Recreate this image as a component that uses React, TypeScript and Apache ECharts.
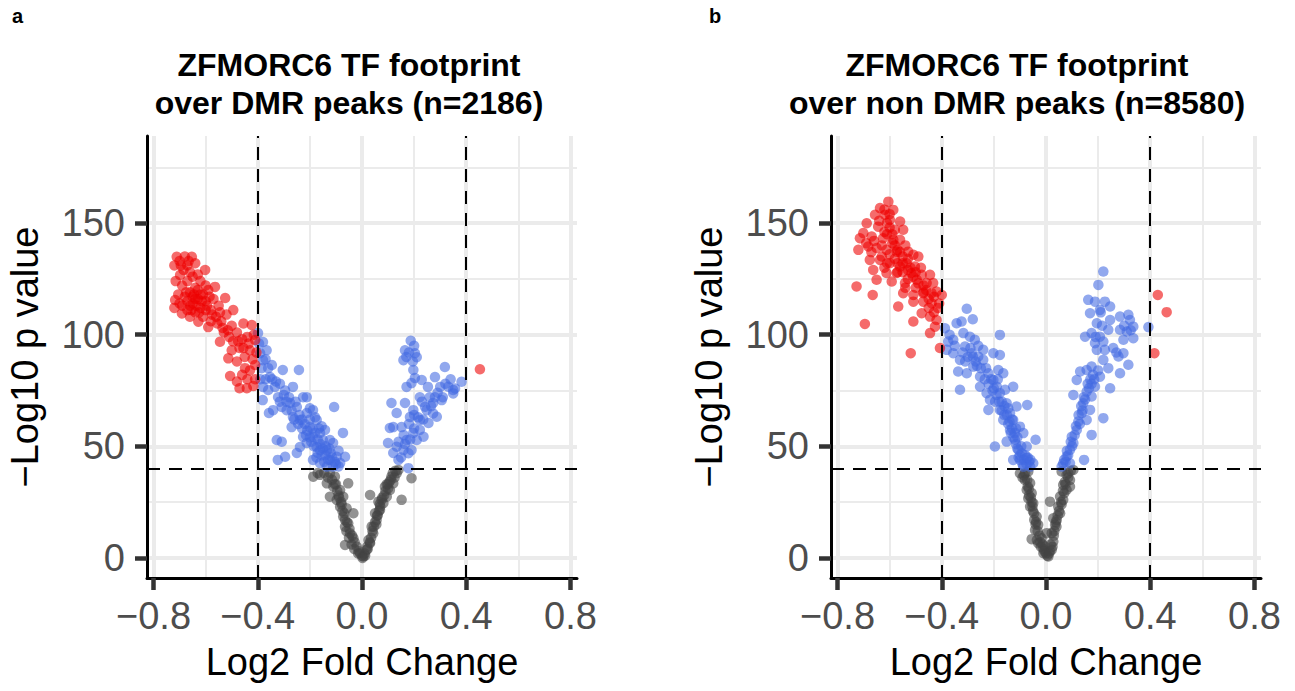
import React, { useEffect, useRef } from "react";
import * as echarts from "echarts";

// ---------- axes / reference values ----------
const xMajor = [-0.8, -0.4, 0, 0.4, 0.8];
const xMinor = [-0.6, -0.2, 0.2, 0.6];
const yMajor = [0, 50, 100, 150];
const yMinor = [25, 75, 125, 175];
const fcCut = [-0.4, 0.4];
const pCut = 40;
const xLimits = [-0.825, 0.825];
const yLimits = [-9, 189];

const panelTags = ["a", "b"];
const panelTitles = [
  "ZFMORC6 TF footprint\nover DMR peaks (n=2186)",
  "ZFMORC6 TF footprint\nover non DMR peaks (n=8580)",
];
const xTitle = "Log2 Fold Change";
const yTitle = "\u2212Log10 p value";

// ---------- panel a data ----------
const aRed = [
  [-0.711, 134.9], [-0.653, 134.9], [-0.64, 132], [-0.698, 126.7], [-0.602, 129], [-0.564, 121.4],
  [-0.525, 116.4], [-0.494, 111], [-0.455, 105], [-0.423, 104.3], [-0.41, 97.6], [-0.41, 86.4],
  [-0.449, 85], [-0.417, 77], [-0.442, 76], [-0.48, 79], [-0.506, 81.5], [-0.513, 89.4],
  [-0.545, 96.8], [-0.59, 103.4], [-0.628, 105.8], [-0.691, 109.5], [-0.717, 115.5],
  [-0.72, 131], [-0.7, 133], [-0.68, 135], [-0.67, 131], [-0.66, 128], [-0.685, 129], [-0.715, 124],
  [-0.69, 122], [-0.67, 124], [-0.65, 126], [-0.63, 127], [-0.62, 124], [-0.64, 121], [-0.66, 119],
  [-0.68, 117], [-0.7, 114], [-0.72, 112], [-0.69, 113], [-0.67, 111], [-0.65, 114], [-0.63, 116],
  [-0.61, 118], [-0.59, 120], [-0.6, 115], [-0.62, 112], [-0.64, 110], [-0.66, 108], [-0.61, 108],
  [-0.58, 111], [-0.57, 116], [-0.55, 113], [-0.56, 108], [-0.54, 106], [-0.52, 109], [-0.5, 104],
  [-0.53, 101], [-0.51, 99], [-0.48, 101], [-0.46, 98], [-0.44, 99], [-0.47, 94], [-0.43, 93],
  [-0.45, 90], [-0.48, 88], [-0.5, 93], [-0.42, 89], [-0.46, 82], [-0.44, 80], [-0.41, 80],
  [-0.47, 76], [-0.43, 84], [-0.405, 92], [-0.58, 106], [-0.6, 111], [-0.65, 117], [-0.63, 120],
  [-0.64, 116], [-0.66, 113], [-0.62, 118], [-0.6, 122],
  [-0.67, 115], [-0.655, 111], [-0.635, 113], [-0.615, 115], [-0.675, 119], [-0.645, 118],
  [-0.625, 110], [-0.595, 113], [-0.575, 109], [-0.555, 105], [-0.535, 103], [-0.515, 102],
  [-0.495, 97], [-0.475, 97], [-0.455, 94], [-0.435, 96], [-0.415, 100], [-0.705, 118],
  [-0.695, 131], [-0.665, 133], [-0.585, 117], [-0.545, 110],
  [0.4525, 84.5],
];

const aBlue = [
  // left arm
  [-0.399, 100.7], [-0.38, 96.7], [-0.366, 93], [-0.391, 91.7], [-0.38, 88.6], [-0.346, 86.4],
  [-0.385, 85], [-0.353, 81], [-0.38, 76.6], [-0.36, 75.2], [-0.381, 70.7], [-0.357, 64.9],
  [-0.334, 76.6], [-0.304, 84.2], [-0.322, 72], [-0.295, 75], [-0.308, 67.6], [-0.327, 52.8],
  [-0.308, 52], [-0.323, 43.9], [-0.265, 76.6], [-0.242, 84.2], [-0.276, 69.4], [-0.25, 67.6],
  [-0.265, 63.1], [-0.226, 72], [-0.212, 72], [-0.238, 61.8], [-0.212, 64.9], [-0.188, 66.2],
  [-0.2, 58.6], [-0.174, 61.8], [-0.226, 54.2], [-0.188, 54.2], [-0.161, 56], [-0.238, 49.7],
  [-0.212, 51.5], [-0.174, 49.7], [-0.15, 52.8], [-0.135, 48.3], [-0.111, 51.5], [-0.073, 56],
  [-0.107, 67.6], [-0.188, 43.9], [-0.161, 42.5], [-0.123, 43.9], [-0.097, 45.3], [-0.065, 45.3],
  [-0.111, 40.9], [-0.135, 40.9], [-0.084, 42.5], [-0.25, 47], [-0.295, 45.3], [-0.341, 66.2],
  [-0.289, 66.2], [-0.27, 58.6], [-0.161, 48.3], [-0.123, 52.8], [-0.142, 57.3],
  [-0.22, 60], [-0.2, 62], [-0.19, 58], [-0.18, 56], [-0.17, 53], [-0.16, 51], [-0.15, 49],
  [-0.14, 46], [-0.13, 44], [-0.12, 47], [-0.2, 54], [-0.21, 57], [-0.23, 58], [-0.24, 64],
  [-0.255, 70], [-0.28, 72], [-0.3, 73], [-0.315, 78], [-0.37, 80], [-0.39, 80], [-0.175, 45],
  [-0.145, 43], [-0.1, 42], [-0.09, 48], [-0.155, 59],
  [-0.395, 96], [-0.37, 89], [-0.36, 85], [-0.345, 80], [-0.33, 79], [-0.315, 70], [-0.29, 70],
  [-0.27, 66], [-0.26, 62], [-0.245, 60], [-0.23, 62], [-0.215, 55], [-0.195, 52], [-0.185, 50],
  [-0.17, 47], [-0.155, 46], [-0.14, 50], [-0.125, 49], [-0.115, 45], [-0.105, 43], [-0.09, 41],
  [-0.2, 67], [-0.18, 63], [-0.165, 58],
  // right arm
  [0.187, 97.3], [0.165, 93], [0.203, 91.7], [0.159, 88.6], [0.21, 89.9], [0.197, 84.2],
  [0.203, 80.6], [0.19, 78.3], [0.318, 85.5], [0.28, 81], [0.382, 78.9], [0.253, 76.6],
  [0.3, 76.6], [0.35, 75.2], [0.171, 76.6], [0.222, 72], [0.26, 72], [0.306, 70.7],
  [0.113, 69.4], [0.165, 69.4], [0.197, 66.2], [0.248, 66.2], [0.273, 69.4], [0.133, 64.9],
  [0.184, 63.1], [0.222, 61.8], [0.255, 60.4], [0.107, 58.2], [0.152, 58.6], [0.12, 58.6],
  [0.197, 56], [0.222, 57.3], [0.171, 52.8], [0.21, 52.8], [0.1, 51.5], [0.133, 49.8],
  [0.19, 48.3], [0.12, 47], [0.159, 48.3], [0.178, 46.9], [0.14, 43.9], [0.178, 40.2],
  [0.236, 54.3], [0.273, 64.7], [0.287, 63.2], [0.35, 73.7], [0.331, 76.7], [0.357, 75.9],
  [0.229, 79.7], [0.242, 67.7], [0.18, 60], [0.2, 64], [0.16, 55], [0.14, 52], [0.23, 70],
  [0.29, 74], [0.31, 72], [0.17, 90], [0.195, 88],
  [0.15, 45], [0.165, 51], [0.185, 53], [0.2, 58], [0.215, 63], [0.235, 62], [0.265, 68],
  [0.28, 72], [0.32, 78], [0.34, 80], [0.18, 92], [0.2, 95],
];

const aGray = [
  [-0.187, 36.4], [-0.161, 37.2], [-0.123, 37.9], [-0.104, 36.4], [-0.053, 33.4], [-0.135, 33.4],
  [-0.11, 31.9], [-0.084, 30.4], [-0.123, 27.4], [-0.097, 26], [-0.072, 27.4], [-0.084, 22.9],
  [-0.059, 22.2], [-0.072, 18.5], [-0.053, 15.5], [-0.065, 14], [-0.046, 11], [-0.033, 8.8],
  [-0.065, 5.8], [-0.02, 5], [-0.008, 2.1], [0.005, 0.6], [0.018, 3.6], [0.031, 6.6],
  [0.043, 11], [0.037, 14], [0.056, 17], [0.05, 20], [0.069, 21.5], [0.082, 24.5],
  [0.063, 25.2], [0.095, 27.4], [0.107, 30.4], [0.088, 31.9], [0.12, 33.4], [0.113, 36.4],
  [0.133, 37.9], [0.14, 39.4], [0.152, 26], [0.19, 35.7], [0.031, 28.2], [-0.033, 20],
  [-0.115, 35], [-0.1, 33], [-0.09, 28], [-0.08, 25], [-0.075, 21], [-0.065, 17], [-0.06, 12],
  [-0.05, 9], [-0.04, 6], [-0.03, 4], [-0.015, 2], [0, 1], [0.01, 2], [0.02, 5], [0.025, 8],
  [0.035, 9], [0.045, 14], [0.06, 19], [0.07, 23], [0.075, 26], [0.085, 28], [0.1, 31],
  [0.105, 34], [0.125, 36], [0.095, 33], [0.065, 21], [0.055, 15], [-0.145, 38], [-0.095, 30],
  [-0.17, 38], [-0.13, 36], [-0.105, 33], [-0.088, 27], [-0.078, 24], [-0.068, 20], [-0.058, 16],
  [-0.048, 13], [-0.038, 10], [-0.028, 7], [-0.012, 3], [0.002, 0], [0.012, 1], [0.022, 4],
  [0.03, 7], [0.04, 12], [0.05, 16], [0.058, 19], [0.068, 24], [0.078, 27], [0.09, 30],
  [0.1, 33], [0.11, 35], [0.128, 39], [0.118, 38],
];

// ---------- panel b data ----------
const bRed = [
  [-0.605, 159.6], [-0.637, 156.7], [-0.586, 155.9], [-0.656, 153.7], [-0.618, 153.7], [-0.599, 151.4],
  [-0.56, 150.7], [-0.688, 149.9], [-0.644, 148.4], [-0.58, 147], [-0.701, 145.5], [-0.548, 147],
  [-0.714, 143.2], [-0.669, 144], [-0.625, 143.2], [-0.586, 142.5], [-0.56, 142.5], [-0.72, 138],
  [-0.682, 139.5], [-0.65, 138.8], [-0.612, 138], [-0.573, 137.2], [-0.529, 137.2], [-0.509, 135.8],
  [-0.49, 135], [-0.676, 133.5], [-0.637, 133.5], [-0.599, 132], [-0.56, 130.5], [-0.535, 132],
  [-0.503, 130.5], [-0.663, 129], [-0.612, 127.6], [-0.573, 127.6], [-0.516, 127.6], [-0.477, 126.8],
  [-0.445, 126.8], [-0.65, 124.6], [-0.592, 123.8], [-0.541, 123.1], [-0.496, 124.6], [-0.458, 123.1],
  [-0.433, 123.1], [-0.727, 121.6], [-0.665, 117.8], [-0.548, 118.6], [-0.509, 117.8], [-0.471, 118.6],
  [-0.439, 118.6], [-0.4, 117.8], [-0.42, 119.3], [-0.567, 112.6], [-0.509, 114.8], [-0.471, 114.8],
  [-0.439, 114.1], [-0.477, 109.6], [-0.445, 108.1], [-0.42, 106.6], [-0.695, 104.8], [-0.509, 105.9],
  [-0.445, 100.7], [-0.407, 94], [-0.519, 91.7], [-0.426, 103.6],
  [-0.6, 148], [-0.62, 146], [-0.58, 140], [-0.55, 135], [-0.6, 136], [-0.63, 140], [-0.66, 142],
  [-0.52, 130], [-0.5, 128], [-0.55, 128], [-0.57, 132], [-0.62, 130], [-0.47, 122], [-0.5, 121],
  [-0.53, 125], [-0.45, 112], [-0.43, 110], [-0.61, 150], [-0.64, 151], [-0.59, 145], [-0.54, 140],
  [-0.56, 137], [-0.53, 134], [-0.48, 130], [-0.46, 120], [-0.415, 112],
  [-0.61, 145], [-0.59, 141], [-0.57, 138], [-0.55, 132], [-0.53, 129], [-0.51, 126], [-0.49, 123],
  [-0.47, 119], [-0.45, 116], [-0.43, 117], [-0.41, 114], [-0.63, 135], [-0.61, 132], [-0.58, 134],
  [-0.57, 128], [-0.54, 121], [-0.62, 156], [-0.6, 154], [-0.67, 137], [-0.69, 141],
  [0.429, 117.8], [0.463, 110.1], [0.416, 91.7],
];

const bBlue = [
  // left arm
  [-0.388, 102.9], [-0.375, 96.9], [-0.381, 93.2], [-0.356, 91.7], [-0.343, 105.1], [-0.324, 105.9],
  [-0.304, 111.6], [-0.281, 106.9], [-0.317, 100.7], [-0.292, 99.1], [-0.273, 97.7], [-0.311, 94.7],
  [-0.33, 88.7], [-0.337, 83.5], [-0.304, 82.7], [-0.33, 75.3], [-0.285, 91.7], [-0.26, 90.2],
  [-0.241, 88.7], [-0.279, 85.7], [-0.253, 81.2], [-0.221, 82.7], [-0.202, 79.7], [-0.177, 99.9],
  [-0.177, 90.9], [-0.183, 84.2], [-0.164, 82.7], [-0.189, 76.7], [-0.253, 76.7], [-0.215, 70.8],
  [-0.177, 73.8], [-0.157, 75.3], [-0.221, 66.3], [-0.177, 66.3], [-0.151, 69.3], [-0.138, 64.8],
  [-0.164, 61.8], [-0.126, 61.8], [-0.113, 67.8], [-0.072, 68.5], [-0.138, 57.3], [-0.1, 58.8],
  [-0.087, 55.9], [-0.119, 52.9], [-0.151, 52.1], [-0.196, 49.9], [-0.04, 52.9], [-0.074, 49.9],
  [-0.106, 48.4], [-0.126, 43.9], [-0.1, 43.9], [-0.074, 44.7], [-0.049, 42.4], [-0.087, 40.9],
  [-0.061, 40.9], [-0.093, 46.9], [-0.241, 93.2], [-0.356, 97.7], [-0.202, 91.7], [-0.228, 73.8],
  [-0.126, 76.7], [-0.3, 90], [-0.27, 88], [-0.23, 85], [-0.21, 80], [-0.19, 73], [-0.17, 70],
  [-0.15, 64], [-0.13, 58], [-0.11, 54], [-0.095, 50], [-0.08, 46], [-0.065, 43], [-0.2, 76],
  [-0.16, 68], [-0.14, 61], [-0.12, 56], [-0.105, 45], [-0.09, 42],
  [-0.37, 100], [-0.35, 95], [-0.32, 92], [-0.31, 88], [-0.29, 94], [-0.28, 90], [-0.265, 86],
  [-0.25, 85], [-0.235, 80], [-0.22, 78], [-0.205, 75], [-0.195, 70], [-0.18, 70], [-0.17, 66],
  [-0.16, 64], [-0.145, 60], [-0.135, 56], [-0.125, 54], [-0.115, 51], [-0.11, 49], [-0.1, 46],
  [-0.085, 44], [-0.075, 42], [-0.07, 45], [-0.06, 44], [-0.115, 58], [-0.13, 62], [-0.145, 67],
  [-0.185, 80], [-0.26, 95],
  // right arm
  [0.22, 128.3], [0.201, 122.3], [0.162, 115.6], [0.188, 114.8], [0.226, 114.8], [0.207, 111.1],
  [0.169, 109.6], [0.246, 112.6], [0.246, 106.6], [0.284, 108.1], [0.316, 108.9], [0.322, 106.6],
  [0.284, 102.2], [0.31, 101.4], [0.335, 98.4], [0.393, 103.4], [0.175, 100.7], [0.15, 99.1],
  [0.207, 99.1], [0.188, 96.2], [0.22, 96.9], [0.195, 93.2], [0.226, 93.2], [0.258, 94],
  [0.278, 90.2], [0.297, 91.7], [0.316, 86.5], [0.22, 88.7], [0.239, 85], [0.175, 85.7],
  [0.131, 83.5], [0.156, 84.2], [0.207, 81.2], [0.284, 82.7], [0.246, 76], [0.188, 76.7],
  [0.156, 74.5], [0.105, 73], [0.175, 72.3], [0.143, 69.3], [0.169, 66.3], [0.137, 64.8],
  [0.22, 62.6], [0.156, 61.8], [0.124, 61.1], [0.118, 57.3], [0.099, 54.3], [0.175, 55.1],
  [0.105, 51.4], [0.092, 48.4], [0.079, 45.4], [0.146, 43.9], [0.066, 42.4], [0.092, 42.4],
  [0.06, 40.9], [0.335, 103.6], [0.297, 97.7], [0.239, 102.2], [0.195, 105.1], [0.118, 79.7],
  [0.16, 78], [0.17, 80], [0.18, 82], [0.15, 71], [0.14, 66], [0.13, 60], [0.11, 55],
  [0.1, 50], [0.085, 46], [0.075, 43], [0.21, 110], [0.3, 104], [0.2, 84],
  [0.165, 76], [0.175, 78], [0.185, 80], [0.145, 72], [0.135, 68], [0.125, 64], [0.115, 59],
  [0.095, 52], [0.08, 48], [0.07, 44], [0.19, 99], [0.215, 104], [0.325, 102], [0.27, 92],
];

const bGray = [
  [-0.1, 37.9], [-0.068, 38.7], [-0.081, 34.9], [-0.061, 33.5], [-0.074, 30.5], [-0.055, 29],
  [-0.068, 26.7], [-0.049, 24.5], [-0.061, 23], [-0.036, 18.5], [-0.03, 14.8], [-0.042, 12.5],
  [-0.055, 8.4], [-0.017, 8.8], [-0.03, 6.6], [-0.004, 5.1], [-0.01, 2.1], [0.009, 0.6],
  [0.022, 3.6], [0.028, 7.3], [0.022, 11.1], [0.035, 14.8], [0.028, 17.8], [0.054, 20],
  [0.047, 23], [0.015, 25.2], [0.066, 26], [0.054, 27.5], [0.079, 30.5], [0.066, 32.7],
  [0.092, 34.9], [0.079, 37.2], [0.105, 39.4], [0.06, 38.7], [0.092, 31.9], [0.041, 17],
  [0.003, 11.1], [-0.09, 36], [-0.07, 32], [-0.065, 28], [-0.055, 25], [-0.05, 21],
  [-0.045, 17], [-0.04, 15], [-0.025, 10], [-0.02, 5], [-0.01, 4], [0, 2], [0.005, 1],
  [0.015, 3], [0.025, 5], [0.03, 10], [0.04, 14], [0.045, 19], [0.06, 24], [0.07, 29],
  [0.075, 33], [0.085, 36], [0.095, 39], [-0.08, 38], [-0.035, 8],
  [-0.085, 37], [-0.072, 35], [-0.066, 31], [-0.058, 27], [-0.052, 23], [-0.046, 20], [-0.038, 16],
  [-0.032, 12], [-0.022, 7], [-0.012, 6], [-0.006, 3], [0.012, 2], [0.018, 6], [0.032, 12],
  [0.038, 16], [0.05, 21], [0.058, 25], [0.065, 30], [0.072, 34], [0.085, 38],
];

const panels = [
  { red: aRed, blue: aBlue, gray: aGray },
  { red: bRed, blue: bBlue, gray: bGray },
];

const FONT = "'Liberation Sans', Arial, Helvetica, sans-serif";
const gridLefts = [147, 831];
const titleCenters = [349, 1017];
const tagLefts = [12, 709];

function fmtX(v: number) {
  const s = Math.abs(v).toFixed(1);
  return v < -1e-9 ? "\u2212" + s : s;
}

function buildOption() {
  const grid = gridLefts.map((left) => ({ left, top: 136, width: 430, height: 442 }));

  const xAxis = gridLefts.map((_, i) => ({
    type: "value",
    gridIndex: i,
    min: xLimits[0],
    max: xLimits[1],
    z: 4,
    name: xTitle,
    nameLocation: "middle",
    nameGap: 65,
    nameTextStyle: { fontSize: 38, color: "#000", fontFamily: FONT },
    axisLine: { show: true, onZero: false, lineStyle: { color: "#000", width: 3 } },
    axisTick: { show: true, customValues: xMajor, length: 12, lineStyle: { color: "#333", width: 4.5 } },
    axisLabel: { show: true, customValues: xMajor, margin: 19, fontSize: 38, color: "#4D4D4D", fontFamily: FONT, formatter: fmtX },
    splitLine: { show: false },
  }));

  const yAxis = gridLefts.map((_, i) => ({
    type: "value",
    gridIndex: i,
    min: yLimits[0],
    max: yLimits[1],
    z: 4,
    name: yTitle,
    nameLocation: "middle",
    nameRotate: 90,
    nameGap: 103,
    nameTextStyle: { fontSize: 38, color: "#000", fontFamily: FONT },
    axisLine: { show: true, onZero: false, lineStyle: { color: "#000", width: 3 } },
    axisTick: { show: true, customValues: yMajor, length: 12, lineStyle: { color: "#333", width: 4.5 } },
    axisLabel: { show: true, customValues: yMajor, margin: 22, fontSize: 38, color: "#4D4D4D", fontFamily: FONT, formatter: (v: number) => String(v) },
    splitLine: { show: false },
  }));

  const series: any[] = [];
  panels.forEach((p, i) => {
    const gl = (w: number) => ({ color: "#EBEBEB", width: w, type: "solid" });
    const gridLines = [
      ...xMinor.map((v) => ({ xAxis: v, lineStyle: gl(2) })),
      ...yMinor.map((v) => ({ yAxis: v, lineStyle: gl(2) })),
      ...xMajor.map((v) => ({ xAxis: v, lineStyle: gl(4) })),
      ...yMajor.map((v) => ({ yAxis: v, lineStyle: gl(4) })),
    ];
    series.push({
      type: "scatter",
      xAxisIndex: i,
      yAxisIndex: i,
      data: [],
      silent: true,
      z: 1,
      markLine: {
        silent: true,
        z: 1,
        symbol: "none",
        animation: false,
        label: { show: false },
        emphasis: { disabled: true },
        data: gridLines,
      },
    });
    const groups: [number[][], string][] = [
      [p.gray, "#444444"],
      [p.blue, "#4169E1"],
      [p.red, "#EE0000"],
    ];
    groups.forEach(([d, c]) => {
      series.push({
        type: "scatter",
        xAxisIndex: i,
        yAxisIndex: i,
        data: d,
        symbol: "circle",
        symbolSize: 10.5,
        z: 2,
        silent: true,
        itemStyle: { color: c, opacity: 0.58 },
        emphasis: { disabled: true },
      });
    });
    series.push({
      type: "scatter",
      xAxisIndex: i,
      yAxisIndex: i,
      data: [],
      silent: true,
      z: 5,
      markLine: {
        silent: true,
        z: 5,
        symbol: "none",
        animation: false,
        label: { show: false },
        emphasis: { disabled: true },
        lineStyle: { color: "#000", width: 2, type: [13, 9] },
        data: [...fcCut.map((v) => ({ xAxis: v })), { yAxis: pCut }],
      },
    });
  });

  const graphic: any[] = [];
  panelTitles.forEach((t, i) => {
    graphic.push({
      type: "text",
      x: titleCenters[i],
      y: 46,
      silent: true,
      style: {
        text: t,
        align: "center",
        verticalAlign: "top",
        textAlign: "center",
        textVerticalAlign: "top",
        fontSize: 32,
        fontWeight: "bold",
        fontFamily: FONT,
        lineHeight: 38,
        fill: "#000",
      },
    });
    graphic.push({
      type: "text",
      x: tagLefts[i],
      y: 6,
      silent: true,
      style: {
        text: panelTags[i],
        font: "bold 20px " + FONT,
        align: "left",
        verticalAlign: "top",
        textAlign: "left",
        textVerticalAlign: "top",
        fill: "#000",
      },
    });
  });

  return {
    animation: false,
    backgroundColor: "#ffffff",
    grid,
    xAxis,
    yAxis,
    series,
    graphic,
  };
}

export default function App() {
  const ref = useRef<HTMLDivElement>(null);
  useEffect(() => {
    if (!ref.current) return;
    const chart = echarts.init(ref.current, undefined, { renderer: "svg" });
    chart.setOption(buildOption() as any);
    return () => chart.dispose();
  }, []);
  return (
    <div
      ref={ref}
      style={{ position: "absolute", left: 0, top: 0, width: 1295, height: 691, background: "#fff" }}
    />
  );
}
